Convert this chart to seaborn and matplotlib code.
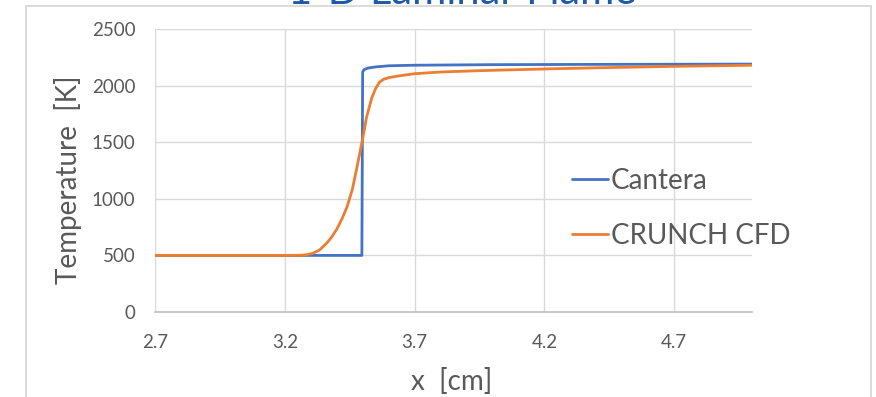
import matplotlib
matplotlib.use("Agg")
import matplotlib.pyplot as plt
from matplotlib.patches import Rectangle
import seaborn as sns
import pandas as pd

# Temperature profiles across the flame front
cantera_x = [2.70, 3.20, 3.497, 3.500, 3.505, 3.52, 3.55, 3.60, 3.70, 4.00, 4.50, 5.00]
cantera_T = [500, 500, 500, 2120, 2140, 2155, 2165, 2175, 2180, 2185, 2188, 2190]

crunch_x = [2.70, 3.20, 3.26, 3.29, 3.31, 3.335, 3.36, 3.38, 3.40, 3.42, 3.44, 3.46,
            3.48, 3.50, 3.515, 3.535, 3.55, 3.565, 3.58, 3.60, 3.64, 3.70, 3.80,
            3.95, 4.20, 4.40, 4.70, 5.00]
crunch_T = [500, 500, 501, 508, 520, 550, 605, 660, 730, 820, 930, 1080,
            1300, 1530, 1720, 1890, 1975, 2030, 2055, 2070, 2086, 2105, 2120,
            2132, 2147, 2157, 2170, 2180]

series_names = ["Cantera", "CRUNCH CFD"]
x_ticks = [2.7, 3.2, 3.7, 4.2, 4.7]
y_ticks = [0, 500, 1000, 1500, 2000, 2500]

df = pd.concat([
    pd.DataFrame({"x": cantera_x, "T": cantera_T, "series": series_names[0]}),
    pd.DataFrame({"x": crunch_x, "T": crunch_T, "series": series_names[1]}),
], ignore_index=True)

sns.set_style("white")
plt.rcParams["font.family"] = ["Lato", "DejaVu Sans"]

W, H = 876, 397
fig = plt.figure(figsize=(W / 100, H / 100), dpi=100)
ax = fig.add_axes([155 / W, 1 - 312 / H, (752 - 155) / W, (312 - 29) / H])

palette = {"Cantera": "#4472C4", "CRUNCH CFD": "#ED7D31"}
sns.lineplot(data=df, x="x", y="T", hue="series", palette=palette,
             estimator=None, sort=False, linewidth=2.0, ax=ax, zorder=3)

ax.set_xlim(2.7, 5.0)
ax.set_ylim(0, 2500)
ax.set_xticks(x_ticks)
ax.set_xticklabels([f"{v:.1f}" for v in x_ticks])
ax.set_yticks(y_ticks)
ax.grid(True, color="#D9D9D9", linewidth=1.0, zorder=0)
for side in ["top", "right", "left"]:
    ax.spines[side].set_visible(False)
ax.spines["bottom"].set_color("#BFBFBF")
ax.spines["bottom"].set_linewidth(1.2)
ax.tick_params(axis="both", length=0, labelsize=13.5, labelcolor="#595959")
ax.tick_params(axis="y", pad=14)
ax.tick_params(axis="x", pad=16)

ax.set_xlabel("x  [cm]", fontsize=20, color="#595959")
ax.set_ylabel("Temperature  [K]", fontsize=20, color="#595959")
ax.xaxis.set_label_coords((452 - 155) / (752 - 155), -(382 - 312) / (312 - 29))
ax.yaxis.set_label_coords(-(155 - 68) / (752 - 155), (312 - 180) / (312 - 29))
ax.xaxis.label.set_va("center")
ax.yaxis.label.set_va("center")

leg = ax.legend(loc="upper left", bbox_to_anchor=((572 - 155) / (752 - 155), (312 - 168) / (312 - 29)),
                frameon=False, fontsize=20, handlelength=1.3, handletextpad=0.1,
                labelspacing=1.05, borderpad=0, borderaxespad=0)
for t in leg.get_texts():
    t.set_color("#595959")
for l in leg.get_lines():
    l.set_linewidth(2.0)

# chart border and title
fig.add_artist(Rectangle((26 / W, -0.05), (871 - 26) / W, 1.05 - 6 / H,
                         transform=fig.transFigure, fill=False,
                         edgecolor="#D9D9D9", linewidth=1.3))
fig.text(462 / W, 1 - 4 / H, "1-D Laminar Flame", ha="center", va="baseline",
         fontsize=30, color="#1F5AA6")

fig.savefig("out.png", dpi=100)
